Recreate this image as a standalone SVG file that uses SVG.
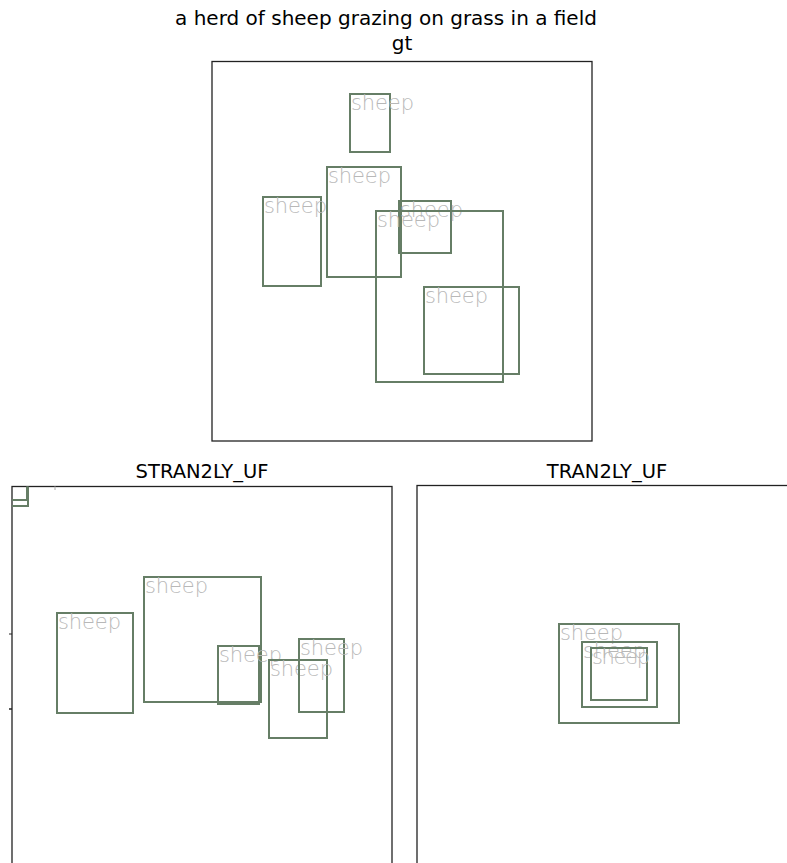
<svg xmlns="http://www.w3.org/2000/svg" width="787" height="863" viewBox="0 0 787 863">
<style>
.title{font-family:"DejaVu Sans","Liberation Sans",sans-serif;font-size:19.5px;fill:#000;text-anchor:middle}
.big{font-size:20px}
.ax{fill:#fff;stroke:#222;stroke-width:1.3}
.box{fill:none;stroke:#667e66;stroke-width:2}
.lbl{font-family:"DejaVu Sans","Liberation Sans",sans-serif;font-weight:200;font-size:21px;fill:#b8b8b8}
</style>
<defs>
<clipPath id="clipL"><rect x="12" y="486.5" width="380" height="400"/></clipPath>
</defs>
<rect width="787" height="863" fill="#fff"/>
<text class="title big" x="386" y="25">a herd of sheep grazing on grass in a field</text>
<text class="title big" x="402" y="50">gt</text>
<text class="title" x="202" y="478">STRAN2LY_UF</text>
<text class="title" x="607" y="478">TRAN2LY_UF</text>

<g id="panel-gt">
<rect class="ax" x="212" y="61.5" width="380" height="379.5"/>
<g id="gt-1"><rect class="box" x="350" y="94" width="40" height="58"/><text class="lbl" x="351" y="110" textLength="63">sheep</text></g>
<g id="gt-2"><rect class="box" x="263" y="197" width="58" height="89"/><text class="lbl" x="264" y="213" textLength="63">sheep</text></g>
<g id="gt-3"><rect class="box" x="327" y="167" width="74" height="110"/><text class="lbl" x="328" y="183" textLength="63">sheep</text></g>
<g id="gt-4"><rect class="box" x="399" y="201" width="52" height="52"/><text class="lbl" x="400" y="217" textLength="63">sheep</text></g>
<g id="gt-5"><rect class="box" x="376" y="211" width="127" height="171"/><text class="lbl" x="377" y="227" textLength="63">sheep</text></g>
<g id="gt-6"><rect class="box" x="424" y="287" width="95" height="87"/><text class="lbl" x="425" y="303" textLength="63">sheep</text></g>
</g>

<g id="panel-stran">
<rect class="ax" x="12" y="486.5" width="380" height="400"/>
<g clip-path="url(#clipL)">
<rect class="box" x="8" y="478" width="19" height="22"/>
<rect class="box" x="8" y="478" width="20" height="28"/>
<line x1="55" y1="486" x2="55" y2="490" stroke="#b8b8b8" stroke-width="1.2"/>
</g>
<line x1="9" y1="634" x2="12" y2="634" stroke="#222" stroke-width="1"/>
<line x1="9" y1="709" x2="12" y2="709" stroke="#222" stroke-width="1.5"/>
<g id="s-1"><rect class="box" x="57" y="613" width="76" height="100"/><text class="lbl" x="58" y="629" textLength="63">sheep</text></g>
<g id="s-2"><rect class="box" x="144" y="577" width="117" height="125"/><text class="lbl" x="145" y="593" textLength="63">sheep</text></g>
<g id="s-3"><rect class="box" x="218" y="646" width="41" height="58"/><text class="lbl" x="219" y="662" textLength="63">sheep</text></g>
<g id="s-4"><rect class="box" x="269" y="660" width="58" height="78"/><text class="lbl" x="270" y="676" textLength="63">sheep</text></g>
<g id="s-5"><rect class="box" x="299" y="639" width="45" height="73"/><text class="lbl" x="300" y="655" textLength="63">sheep</text></g>
</g>

<g id="panel-tran">
<rect class="ax" x="417" y="485.5" width="400" height="400"/>
<g id="t-1"><rect class="box" x="559" y="624" width="120" height="99"/><text class="lbl" x="560" y="640" textLength="63">sheep</text></g>
<g id="t-2"><rect class="box" x="582" y="642" width="75" height="65"/><text class="lbl" x="583" y="658" textLength="63">sheep</text></g>
<g id="t-3"><rect class="box" x="591" y="648" width="56" height="52"/><text class="lbl" x="592" y="664" textLength="58">sheep</text></g>
</g>
<g id="connectors"/>
</svg>
